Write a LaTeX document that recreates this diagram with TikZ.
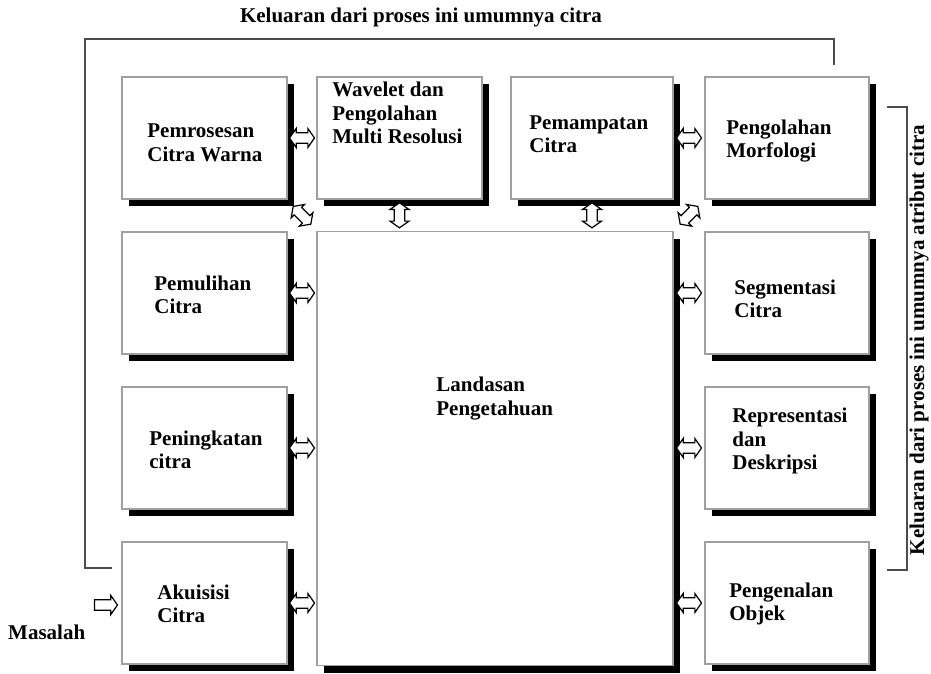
\documentclass[tikz,border=0pt]{standalone}
\usepackage{fontspec}
\setmainfont{Liberation Serif}
\usetikzlibrary{positioning,shapes.arrows,shadows,calc}

\begin{document}
\begin{tikzpicture}[x=1pt, y=-1pt,
  every node/.style={font=\fontsize{21}{23.5}\selectfont\bfseries},
  box/.style={
    rectangle, draw=gray!75, line width=1.6pt, fill=white,
    minimum width=165pt, minimum height=122pt, inner sep=0pt,
    drop shadow={shadow xshift=7pt, shadow yshift=-7pt, fill=black, opacity=1},
  },
  txt/.style={anchor=west, align=left, inner sep=0pt},
  darr/.style={double arrow, draw=black, fill=white, line width=1.2pt,
    text height=9pt, text depth=0pt, text width=0pt,
    minimum height=25pt, minimum width=19pt, double arrow head extend=4pt,
    double arrow tip angle=110, inner sep=0pt},
  sarr/.style={single arrow, draw=black, fill=white, line width=1.2pt,
    text height=9pt, text depth=0pt, text width=0pt,
    minimum height=23pt, minimum width=19pt, single arrow head extend=4pt,
    single arrow tip angle=110, inner sep=0pt},
  bracket/.style={draw=gray!60!black, line width=1.6pt},
]
\useasboundingbox (0,0) rectangle (931,674);

% -- left column --
\node[box] (pemro) at (204.5,138) {};
\node[box, below=31.4pt of pemro] (pemul) {};
\node[box, below=31.4pt of pemul] (penin) {};
\node[box, below=31.4pt of penin] (akuis) {};

% -- top row --
\node[box, right=28.4pt of pemro] (wavel) {};
\node[box, minimum width=162pt, right=27.4pt of wavel] (pemam) {};
\node[box, minimum width=164pt, right=30.4pt of pemam] (morfo) {};

% -- right column --
\node[box, minimum width=164pt, below=31.4pt of morfo] (segme) {};
\node[box, minimum width=164pt, below=31.4pt of segme] (repre) {};
\node[box, minimum width=164pt, below=31.4pt of repre] (objek) {};

% -- knowledge base --
\node[box, minimum width=356pt, minimum height=434pt, anchor=north west]
  (landa) at ([yshift=-31pt]wavel.south west) {};

% -- texts --
\node[txt] (tpemro) at ([shift={(26pt,-5pt)}]pemro.west) {Pemrosesan\\Citra Warna};
\node[txt] (tpemul) at ([shift={(33pt,-2pt)}]pemul.west) {Pemulihan\\Citra};
\node[txt] (tpenin) at ([shift={(28pt,-2pt)}]penin.west) {Peningkatan\\citra};
\node[txt] (takuis) at ([shift={(36pt,-1pt)}]akuis.west) {Akuisisi\\Citra};
\node[txt] (twavel) at ([shift={(16pt,25pt)}]wavel.west) {Wavelet dan\\Pengolahan\\Multi Resolusi};
\node[txt] (tpemam) at ([shift={(19pt,4pt)}]pemam.west) {Pemampatan\\Citra};
\node[txt] (tmorfo) at ([shift={(22pt,-3pt)}]morfo.west) {Pengolahan\\Morfologi};
\node[txt] (tsegme) at ([shift={(30pt,-6pt)}]segme.west) {Segmentasi\\Citra};
\node[txt] (trepre) at ([shift={(28pt,7pt)}]repre.west) {Representasi\\dan\\Deskripsi};
\node[txt] (tobjek) at ([shift={(25pt,-1pt)}]objek.west) {Pengenalan\\Objek};
\node[txt] (tlanda) at ([shift={(120pt,50pt)}]landa.west) {Landasan\\Pengetahuan};

% -- double arrows between blocks --
\node[darr] (apw) at ($(pemro.east)!0.5!(wavel.west)$) {};
\node[darr] (apm) at ($(pemam.east)!0.5!(morfo.west)$) {};
\node[darr, rotate=90] (awl) at ($(wavel.south)!0.5!(wavel.south|-landa.north)$) {};
\node[darr, rotate=90] (aml) at ($(pemam.south)!0.5!(pemam.south|-landa.north)$) {};
\node[darr, rotate=-45] (apl) at ($(pemro.south east)!0.5!(landa.north west)$) {};
\node[darr, rotate=45] (aol) at ($(landa.north east)!0.5!(morfo.south west)$) {};
\foreach \src in {pemul, penin, akuis} {
  \node[darr] (a\src) at ($(\src.east)!0.5!(\src.east-|landa.west)$) {};
}
\foreach \dst in {segme, repre, objek} {
  \node[darr] (a\dst) at ($(landa.east|-\dst.west)!0.5!(\dst.west)$) {};
}

% -- input --
\node[anchor=west, inner sep=0pt] (masal) at (8,632) {Masalah};
\node[sarr, anchor=east] (ainput) at ([shift={(-3pt,-2pt)}]akuis.west) {};

% -- feedback brackets --
\coordinate (brtl) at (85,39);
\draw[bracket] ([shift={(-9pt,-27pt)}]akuis.north west) -| (brtl)
  -| ([shift={(-36pt,11pt)}]morfo.north east);
\draw[bracket] ([shift={(17pt,-31pt)}]morfo.north east) -- ++(20,0)
  |- ([shift={(17pt,-29pt)}]objek.north east);

\node (ttop) at (421,17) {Keluaran dari proses ini umumnya citra};
\node[rotate=90] (tright) at (919,340) {Keluaran dari proses ini umumnya atribut citra};

\end{tikzpicture}
\end{document}
